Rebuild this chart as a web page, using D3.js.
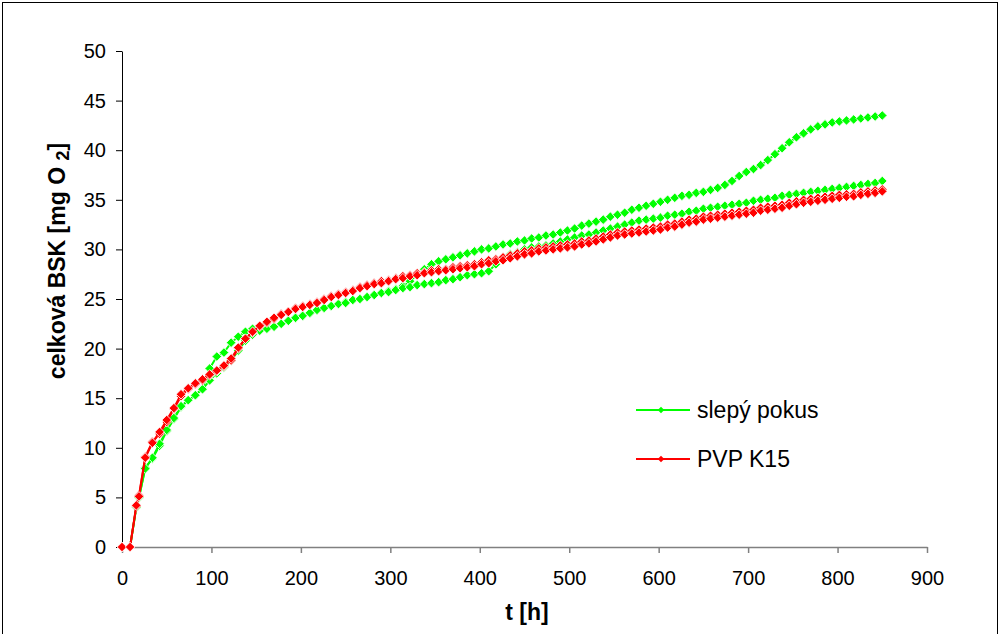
<!DOCTYPE html>
<html>
<head>
<meta charset="utf-8">
<script src="https://cdn.jsdelivr.net/npm/d3@7"></script>
<style>
  body { margin: 0; background: #fff; }
  svg { display: block; }
  text { font-family: "Liberation Sans", Arial, sans-serif; }
</style>
</head>
<body>
<div id="chart"></div>
<script>
const width = 1001,
    height = 634

// time [h]
const times = [
    0, 9, 16, 19, 26, 34, 42, 50, 58, 66,
    74, 82, 90, 98, 106, 114, 122, 130, 138, 146,
    154, 162, 170, 178, 186, 194, 202, 210, 218, 226,
    234, 242, 250, 258, 266, 274, 282, 290, 298, 306,
    314, 322, 330, 338, 346, 354, 362, 370, 378, 386,
    394, 402, 410, 418, 426, 434, 442, 450, 458, 466,
    474, 482, 490, 498, 506, 514, 522, 530, 538, 546,
    554, 562, 570, 578, 586, 594, 602, 610, 618, 626,
    634, 642, 650, 658, 666, 674, 682, 690, 698, 706,
    714, 722, 730, 738, 746, 754, 762, 770, 778, 786,
    794, 802, 810, 818, 826, 834, 842, 850
]

// slepý pokus, two runs
const slepyPokus1 = [
    0, 0, 4.0, 5.0, 8.0, 8.9, 10.2, 11.7, 12.9, 14.1,
    14.8, 15.3, 16.0, 18.0, 19.2, 19.6, 20.6, 21.2, 21.7, 22.0,
    22.1, 22.2, 22.3, 22.5, 22.8, 23.1, 23.3, 23.6, 23.9, 24.1,
    24.3, 24.5, 24.7, 24.9, 25.0, 25.2, 25.4, 25.6, 25.8, 26.0,
    26.3, 26.8, 27.5, 28.0, 28.5, 28.8, 29.0, 29.2, 29.4, 29.6,
    29.8, 30.0, 30.1, 30.3, 30.5, 30.6, 30.8, 30.9, 31.1, 31.2,
    31.4, 31.5, 31.7, 31.9, 32.1, 32.4, 32.6, 32.8, 33.0, 33.3,
    33.5, 33.7, 34.0, 34.2, 34.4, 34.6, 34.8, 35.0, 35.2, 35.4,
    35.5, 35.7, 35.8, 36.0, 36.2, 36.5, 36.9, 37.4, 37.8, 38.1,
    38.5, 39.0, 39.6, 40.2, 40.8, 41.3, 41.7, 42.1, 42.4, 42.6,
    42.8, 42.9, 43.0, 43.1, 43.2, 43.3, 43.4, 43.5
]
const slepyPokus2 = [
    0, 0, 4.0, 5.0, 7.9, 9.0, 10.4, 11.8, 13.0, 14.2,
    14.8, 15.3, 15.9, 16.8, 17.5, 18.1, 18.8, 19.8, 20.8, 21.4,
    21.8, 22.0, 22.2, 22.5, 22.8, 23.1, 23.3, 23.6, 23.9, 24.1,
    24.3, 24.5, 24.6, 24.9, 25.0, 25.2, 25.4, 25.6, 25.7, 25.9,
    26.1, 26.2, 26.4, 26.5, 26.6, 26.7, 26.9, 27.0, 27.2, 27.4,
    27.5, 27.6, 27.8, 28.5, 29.1, 29.5, 29.7, 30.0, 30.2, 30.3,
    30.4, 30.6, 30.8, 31.0, 31.2, 31.4, 31.5, 31.7, 31.9, 32.1,
    32.3, 32.5, 32.7, 32.9, 33.0, 33.1, 33.2, 33.4, 33.5, 33.6,
    33.8, 33.9, 34.1, 34.2, 34.3, 34.4, 34.5, 34.6, 34.7, 34.9,
    35.0, 35.1, 35.2, 35.4, 35.5, 35.6, 35.7, 35.8, 35.9, 36.0,
    36.1, 36.2, 36.3, 36.4, 36.5, 36.6, 36.7, 36.9
]

// PVP K15, two runs
const pvpK15a = [
    0, 0, 4.1, 5.2, 9.1, 10.6, 11.4, 12.6, 13.9, 15.2,
    15.9, 16.4, 16.8, 17.3, 17.7, 18.2, 18.8, 20.0, 21.0, 21.6,
    22.2, 22.6, 23.0, 23.5, 23.7, 24.1, 24.3, 24.5, 24.7, 25.0,
    25.3, 25.5, 25.7, 25.9, 26.2, 26.4, 26.6, 26.8, 26.9, 27.1,
    27.3, 27.4, 27.6, 27.7, 27.9, 28.0, 28.0, 28.2, 28.3, 28.4,
    28.5, 28.7, 28.9, 29.0, 29.2, 29.4, 29.6, 29.8, 29.9, 30.1,
    30.2, 30.3, 30.4, 30.5, 30.6, 30.8, 30.9, 31.1, 31.3, 31.5,
    31.7, 31.8, 31.9, 32.0, 32.1, 32.2, 32.3, 32.5, 32.6, 32.8,
    33.0, 33.1, 33.3, 33.4, 33.5, 33.6, 33.7, 33.8, 33.9, 34.0,
    34.2, 34.3, 34.4, 34.5, 34.7, 34.85, 35.0, 35.1, 35.2, 35.3,
    35.4, 35.5, 35.55, 35.6, 35.75, 35.85, 35.95, 36.05
]
const pvpK15b = [
    0, 0, 4.2, 5.1, 9.0, 10.5, 11.6, 12.8, 14.0, 15.4,
    16.0, 16.5, 16.9, 17.4, 17.8, 18.3, 19.0, 20.1, 21.0, 21.7,
    22.3, 22.7, 23.1, 23.4, 23.7, 24.0, 24.2, 24.4, 24.6, 24.9,
    25.2, 25.4, 25.6, 25.8, 26.1, 26.3, 26.5, 26.6, 26.8, 27.0,
    27.1, 27.3, 27.4, 27.6, 27.7, 27.8, 27.9, 28.0, 28.1, 28.2,
    28.3, 28.5, 28.6, 28.8, 28.9, 29.1, 29.3, 29.5, 29.6, 29.8,
    29.9, 30.0, 30.1, 30.2, 30.3, 30.5, 30.6, 30.8, 31.0, 31.2,
    31.4, 31.5, 31.6, 31.7, 31.8, 31.9, 32.0, 32.2, 32.3, 32.5,
    32.7, 32.8, 33.0, 33.1, 33.2, 33.3, 33.4, 33.5, 33.6, 33.7,
    33.9, 34.0, 34.1, 34.2, 34.4, 34.55, 34.7, 34.8, 34.9, 35.0,
    35.1, 35.2, 35.3, 35.35, 35.5, 35.6, 35.7, 35.85
]

const xTicks = [0, 100, 200, 300, 400, 500, 600, 700, 800, 900]
const yTicks = [0, 5, 10, 15, 20, 25, 30, 35, 40, 45, 50]

const colors = {
    green: "#00ff00",
    red: "#ff0000"
}

const series = [
    { values: slepyPokus1, color: colors.green },
    { values: slepyPokus2, color: colors.green },
    { values: pvpK15a, color: colors.red },
    { values: pvpK15b, color: colors.red }
]

const legendItems = [
    { label: "slepý pokus", color: colors.green },
    { label: "PVP K15", color: colors.red }
]

const svg = d3.select("#chart")
    .append("svg")
        .attr("width", width)
        .attr("height", height)

// outer frame (bottom edge falls outside the picture)
svg.append("rect")
    .attr("x", 2.5)
    .attr("y", 2.5)
    .attr("width", 995)
    .attr("height", 660)
    .attr("fill", "none")
    .attr("stroke", "#000")
    .attr("stroke-width", 1)

const x = d3.scaleLinear().domain([0, 900]).range([122, 927])
const y = d3.scaleLinear().domain([0, 50]).range([547, 51])

// y axis
const yAxis = svg.append("g")
    .attr("transform", "translate(122,0)")
    .call(d3.axisLeft(y).tickValues(yTicks).tickSize(6).tickSizeOuter(0).tickPadding(10))
yAxis.selectAll("path, line").attr("stroke", "#000")
yAxis.selectAll("text")
    .attr("font-size", 20)
    .attr("font-family", "Liberation Sans, Arial, sans-serif")
    .attr("fill", "#000")

// x axis
const xAxis = svg.append("g")
    .attr("transform", "translate(0,547)")
    .call(d3.axisBottom(x).tickValues(xTicks).tickSize(6).tickSizeOuter(0).tickPadding(18))
xAxis.selectAll("path, line").attr("stroke", "#808080").attr("stroke-width", 1.5)
xAxis.selectAll("text")
    .attr("font-size", 20)
    .attr("font-family", "Liberation Sans, Arial, sans-serif")
    .attr("fill", "#000")

// axis titles
svg.append("text")
    .attr("x", 527)
    .attr("y", 620)
    .attr("text-anchor", "middle")
    .attr("font-size", 23)
    .attr("font-weight", "bold")
    .text("t [h]")

const yTitle = svg.append("text")
    .attr("transform", "translate(65,261) rotate(-90)")
    .attr("text-anchor", "middle")
    .attr("font-size", 23)
    .attr("font-weight", "bold")
yTitle.append("tspan").text("celková BSK [mg O   ")
yTitle.append("tspan").attr("font-size", 18).attr("dy", 4).text("2")
yTitle.append("tspan").attr("dy", -4).text("]")

// series
const line = d3.line()
    .x((d, i) => x(times[i]))
    .y(d => y(d))

const diamond = d3.symbol(d3.symbolSquare, 46)

series.forEach(s => {
    const g = svg.append("g")
    g.append("path")
        .attr("d", line(s.values))
        .attr("fill", "none")
        .attr("stroke", s.color)
        .attr("stroke-width", 2)
    g.selectAll("path.mark")
        .data(s.values)
        .enter()
        .append("path")
            .attr("class", "mark")
            .attr("d", diamond)
            .attr("transform", (d, i) => `translate(${x(times[i])},${y(d)}) rotate(45)`)
            .attr("fill", s.color)
            .attr("stroke", "#fff")
            .attr("stroke-width", 0.8)
})

// legend
const legend = svg.append("g")
legendItems.forEach((item, i) => {
    const ly = 410 + i * 49
    legend.append("line")
        .attr("x1", 636).attr("x2", 690)
        .attr("y1", ly).attr("y2", ly)
        .attr("stroke", item.color)
        .attr("stroke-width", 2)
    legend.append("path")
        .attr("d", d3.symbol(d3.symbolSquare, 22)())
        .attr("transform", `translate(661,${ly}) rotate(45)`)
        .attr("fill", item.color)
    legend.append("text")
        .attr("x", 697)
        .attr("y", ly + 8)
        .attr("font-size", 23)
        .text(item.label)
})
</script>
</body>
</html>
